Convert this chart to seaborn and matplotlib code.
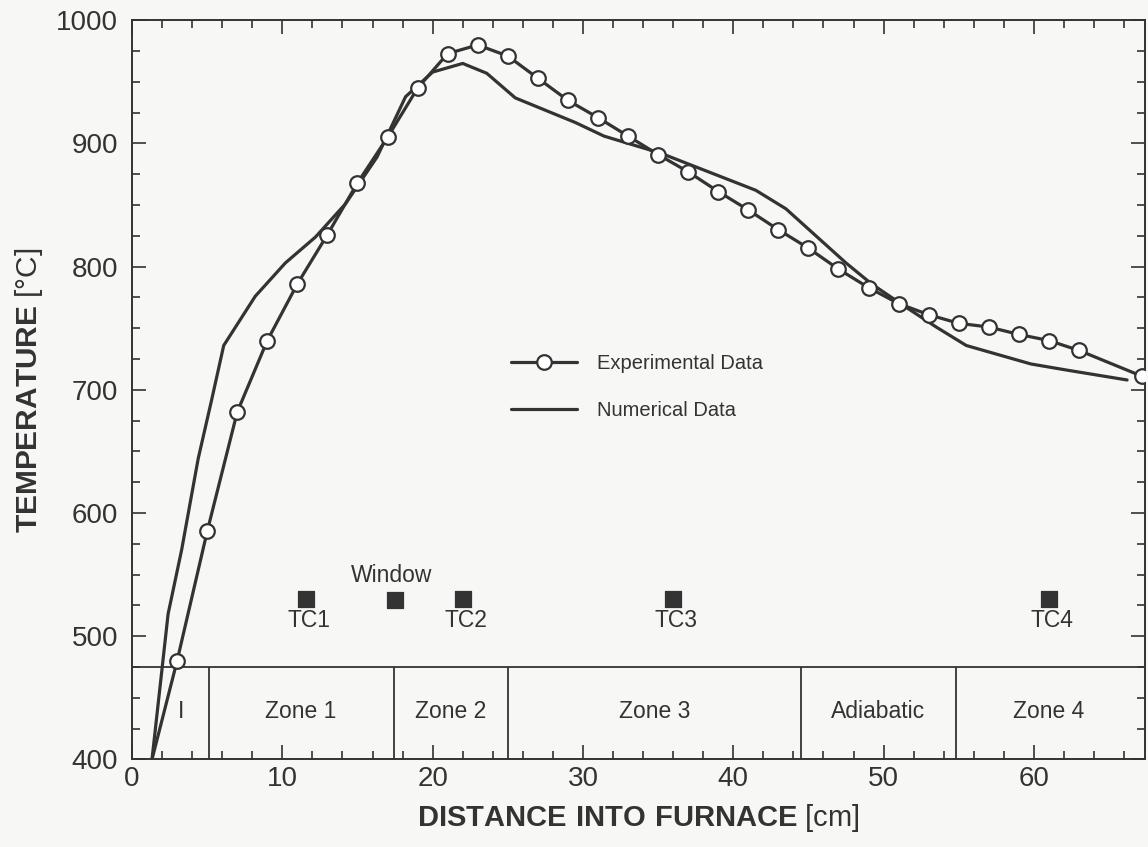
import numpy as np
import pandas as pd
import seaborn as sns
import matplotlib.pyplot as plt
from matplotlib.ticker import MultipleLocator

# experimental data (circles); first point is where the line leaves the bottom of the plot
exp_x = [1.33, 3, 5, 7, 9, 11, 13, 15, 17, 19, 21, 23, 25, 27, 29, 31, 33, 35, 37, 39,
         41, 43, 45, 47, 49, 51, 53, 55, 57, 59, 61, 63, 67.2]
exp_t = [400, 480, 585, 682, 740, 786, 826, 868, 905, 945, 973, 980, 971, 953, 935, 921,
         906, 891, 877, 861, 846, 830, 815, 798, 783, 770, 761, 754, 751, 745, 740, 732, 711]

# numerical model
num_x = [1.33, 2.4, 3.3, 4.4, 5.3, 6.1, 8.2, 10.2, 12.2, 14.2, 16.3, 18.2, 20.0, 22.0,
         23.6, 25.5, 27.7, 29.5, 31.4, 35.2, 41.5, 43.5, 45.5, 47.5, 49.2, 51.5, 53.5,
         55.5, 59.8, 62.2, 66.2]
num_t = [400, 518, 570, 644, 692, 736, 776, 803, 824, 851, 889, 938, 958, 965, 957, 937,
         926, 917, 906, 892, 862, 847, 825, 803, 786, 767, 751, 736, 721, 716, 708]

# furnace zones
zone_edges = [5.1, 17.4, 25.0, 44.5, 54.8]
zone_names = ["I", "Zone 1", "Zone 2", "Zone 3", "Adiabatic", "Zone 4"]
zone_label_x = [3.25, 11.2, 21.2, 34.8, 49.6, 61.0]
zone_top = 475

# thermocouples and window
tc_names = ["TC1", "TC2", "TC3", "TC4"]
tc_x = [11.6, 22.0, 36.0, 61.0]
tc_t = [530, 530, 530, 530]
window_x = 17.5
window_t = 529

ink = "#333333"
bg = "#f7f7f5"

sns.set_style("ticks")
plt.rcParams["font.family"] = ["Liberation Sans", "DejaVu Sans"]
plt.rcParams["mathtext.fontset"] = "custom"
plt.rcParams["mathtext.rm"] = "Liberation Sans"
plt.rcParams["mathtext.bf"] = "Liberation Sans:bold"

fig = plt.figure(figsize=(11.48, 8.47), dpi=100, facecolor=bg)
ax = fig.add_axes([0.115, 0.1035, 0.8825, 0.8725])
ax.set_facecolor(bg)

exp_df = pd.DataFrame({"x": exp_x, "t": exp_t})
num_df = pd.DataFrame({"x": num_x, "t": num_t})

sns.lineplot(data=exp_df, x="x", y="t", ax=ax, color=ink, lw=2.3, marker="o",
             markersize=10.5, markerfacecolor="white", markeredgecolor=ink,
             markeredgewidth=1.6, markevery=list(range(1, len(exp_x))),
             label="Experimental Data", zorder=4)
sns.lineplot(data=num_df, x="x", y="t", ax=ax, color=ink, lw=2.3,
             label="Numerical Data", zorder=3)

# zone strip at the bottom
ax.axhline(zone_top, color=ink, lw=1.3)
ax.vlines(zone_edges, 400, zone_top, color=ink, lw=1.3)
for name, zx in zip(zone_names, zone_label_x):
    ax.text(zx, 438.5, name, ha="center", va="center", fontsize=16.5, color=ink)

# thermocouple markers
sns.scatterplot(x=tc_x + [window_x], y=tc_t + [window_t], ax=ax, marker="s", s=125,
                color=ink, edgecolor=ink, legend=False, zorder=5)
for name, tx in zip(tc_names, tc_x):
    ax.text(tx + 0.2, 512.5, name, ha="center", va="center", fontsize=16.5, color=ink)
ax.text(window_x - 0.2, 549.5, "Window", ha="center", va="center", fontsize=16.5, color=ink)

ax.set_xlim(0, 67.4)
ax.set_ylim(400, 1000)
ax.xaxis.set_major_locator(MultipleLocator(10))
ax.xaxis.set_minor_locator(MultipleLocator(2))
ax.yaxis.set_major_locator(MultipleLocator(100))
ax.yaxis.set_minor_locator(MultipleLocator(25))
ax.tick_params(which="both", direction="in", top=True, right=True, color=ink,
               width=1.2, labelsize=20, labelcolor=ink)
ax.tick_params(which="major", length=10)
ax.tick_params(axis="x", which="major", pad=5)
ax.tick_params(axis="y", which="major", pad=10)
ax.tick_params(which="minor", length=6)
for sp in ax.spines.values():
    sp.set_color(ink)
    sp.set_linewidth(1.4)

ax.set_xlabel(r"$\mathbf{DISTANCE\ INTO\ FURNACE}$ [cm]", fontsize=21, color=ink, labelpad=7)
ax.set_ylabel(r"$\mathbf{TEMPERATURE}$ [°C]", fontsize=21.5, color=ink, labelpad=8)

ax.legend(loc="center left", bbox_to_anchor=(0.356, 0.5036), frameon=False,
          fontsize=14.5, handlelength=3.3, handletextpad=1.0, labelspacing=1.4,
          labelcolor=ink)

fig.savefig("out.png", dpi=100, facecolor=bg)
